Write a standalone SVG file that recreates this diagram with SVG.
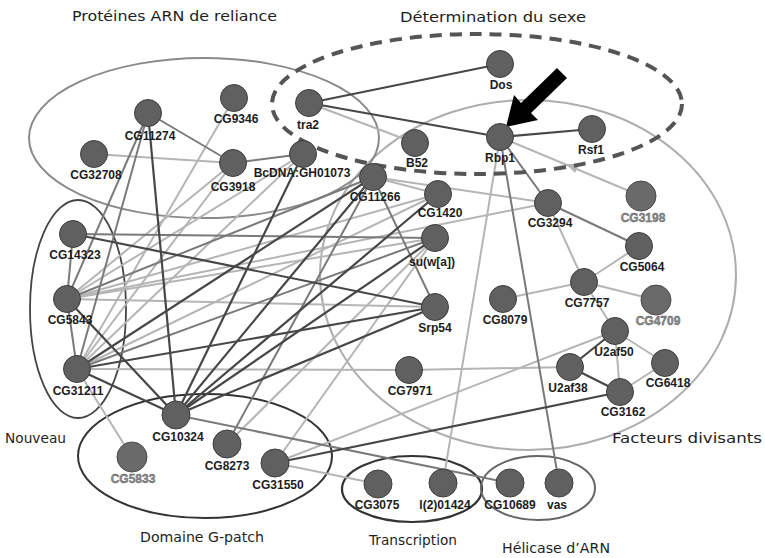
<svg xmlns="http://www.w3.org/2000/svg" width="765" height="558" viewBox="0 0 765 558">
<style>
.bg{fill:#ffffff}
.e-d{stroke:#474747;stroke-width:2.2;stroke-linecap:round}
.e-m{stroke:#7a7a7a;stroke-width:2;stroke-linecap:round}
.e-l{stroke:#b5b5b5;stroke-width:2;stroke-linecap:round}
.n{fill:#606060;stroke:#3e3e3e;stroke-width:1}
.nf{fill:#6a6a6a;stroke:#4a4a4a;stroke-width:1}
.lb{font-family:"Liberation Sans",Arial,sans-serif;font-weight:bold;font-size:12px;fill:#1c1c1c;text-anchor:middle}
.lbf{font-family:"Liberation Sans",Arial,sans-serif;font-weight:bold;font-size:12px;fill:#8c8c8c;stroke:#5a5a5a;stroke-width:0.4;text-anchor:middle}
.ttl{font-family:"DejaVu Sans","Liberation Sans",sans-serif;font-weight:normal;font-size:14.5px;fill:#1e1e1e}
</style>
<rect class="bg" x="0" y="0" width="765" height="558"/>
<g id="groups">
<ellipse id="grp-facteurs" cx="528" cy="275" rx="208" ry="175" fill="none" stroke="#adadad" stroke-width="2"/>
<ellipse id="grp-proteines" cx="204" cy="138" rx="175" ry="80" fill="none" stroke="#8a8a8a" stroke-width="2"/>
<ellipse id="grp-nouveau" cx="78" cy="309" rx="48" ry="109" fill="none" stroke="#444444" stroke-width="1.8"/>
<ellipse id="grp-gpatch" cx="205" cy="456" rx="127" ry="62" fill="none" stroke="#333333" stroke-width="2"/>
<ellipse id="grp-transcription" cx="412" cy="489" rx="70" ry="33" fill="none" stroke="#333333" stroke-width="2.2"/>
<ellipse id="grp-helicase" cx="538" cy="488" rx="57" ry="32" fill="none" stroke="#666666" stroke-width="2"/>
</g>
<g id="connectors">
<line class="e-l" x1="309" y1="103" x2="415" y2="143"/>
<line class="e-l" x1="500" y1="137" x2="641" y2="196"/>
<line class="e-l" x1="500" y1="137" x2="443" y2="483"/>
<line class="e-l" x1="94" y1="154" x2="233" y2="163"/>
<line class="e-l" x1="234" y1="98" x2="77" y2="369"/>
<line class="e-l" x1="303" y1="154" x2="67" y2="299"/>
<line class="e-l" x1="303" y1="154" x2="77" y2="369"/>
<line class="e-l" x1="233" y1="163" x2="67" y2="299"/>
<line class="e-l" x1="233" y1="163" x2="77" y2="369"/>
<line class="e-l" x1="373" y1="177" x2="438" y2="194"/>
<line class="e-l" x1="373" y1="177" x2="548" y2="203"/>
<line class="e-l" x1="67" y1="299" x2="435" y2="238"/>
<line class="e-l" x1="438" y1="194" x2="77" y2="369"/>
<line class="e-l" x1="438" y1="194" x2="67" y2="299"/>
<line class="e-l" x1="435" y1="238" x2="275" y2="463"/>
<line class="e-l" x1="435" y1="238" x2="227" y2="444"/>
<line class="e-l" x1="67" y1="299" x2="435" y2="307"/>
<line class="e-l" x1="77" y1="369" x2="409" y2="370"/>
<line class="e-l" x1="409" y1="370" x2="570" y2="367"/>
<line class="e-l" x1="548" y1="203" x2="584" y2="282"/>
<line class="e-l" x1="639" y1="246" x2="584" y2="282"/>
<line class="e-l" x1="584" y1="282" x2="503" y2="299"/>
<line class="e-l" x1="584" y1="282" x2="656" y2="300"/>
<line class="e-l" x1="584" y1="282" x2="615" y2="331"/>
<line class="e-l" x1="615" y1="331" x2="665" y2="363"/>
<line class="e-l" x1="615" y1="331" x2="620" y2="392"/>
<line class="e-l" x1="665" y1="363" x2="620" y2="392"/>
<line class="e-l" x1="615" y1="331" x2="275" y2="463"/>
<line class="e-l" x1="548" y1="203" x2="67" y2="299"/>
<line class="e-l" x1="77" y1="369" x2="132" y2="457"/>
<line class="e-l" x1="275" y1="463" x2="378" y2="484"/>
<polygon points="566,164 579,164 575,173" fill="#b5b5b5"/>
<line class="e-m" x1="500" y1="137" x2="548" y2="203"/>
<line class="e-m" x1="500" y1="137" x2="559" y2="483"/>
<line class="e-m" x1="148" y1="113" x2="233" y2="163"/>
<line class="e-m" x1="233" y1="163" x2="303" y2="154"/>
<line class="e-m" x1="148" y1="113" x2="77" y2="369"/>
<line class="e-m" x1="148" y1="113" x2="67" y2="299"/>
<line class="e-m" x1="373" y1="177" x2="435" y2="307"/>
<line class="e-m" x1="373" y1="177" x2="227" y2="444"/>
<line class="e-m" x1="373" y1="177" x2="67" y2="299"/>
<line class="e-m" x1="73" y1="234" x2="435" y2="238"/>
<line class="e-m" x1="77" y1="369" x2="435" y2="238"/>
<line class="e-m" x1="548" y1="203" x2="639" y2="246"/>
<line class="e-m" x1="176" y1="415" x2="510" y2="483"/>
<line class="e-m" x1="73" y1="234" x2="67" y2="299"/>
<line class="e-m" x1="67" y1="299" x2="77" y2="369" stroke-width="3"/>
<line class="e-d" x1="309" y1="103" x2="500" y2="64"/>
<line class="e-d" x1="309" y1="103" x2="500" y2="137"/>
<line class="e-d" x1="500" y1="137" x2="592" y2="129"/>
<line class="e-d" x1="148" y1="113" x2="176" y2="415"/>
<line class="e-d" x1="303" y1="154" x2="176" y2="415"/>
<line class="e-d" x1="373" y1="177" x2="176" y2="415"/>
<line class="e-d" x1="373" y1="177" x2="77" y2="369"/>
<line class="e-d" x1="176" y1="415" x2="435" y2="238"/>
<line class="e-d" x1="73" y1="234" x2="435" y2="307"/>
<line class="e-d" x1="77" y1="369" x2="435" y2="307"/>
<line class="e-d" x1="176" y1="415" x2="435" y2="307"/>
<line class="e-d" x1="615" y1="331" x2="570" y2="367"/>
<line class="e-d" x1="570" y1="367" x2="620" y2="392"/>
<line class="e-d" x1="620" y1="392" x2="275" y2="463"/>
<line class="e-d" x1="67" y1="299" x2="176" y2="415"/>
<line class="e-d" x1="77" y1="369" x2="176" y2="415"/>
<line class="e-d" x1="176" y1="415" x2="438" y2="194"/>
</g>
<ellipse id="grp-sexe" cx="477" cy="104" rx="205" ry="70" fill="none" stroke="#555555" stroke-width="4" stroke-dasharray="12 8"/>
<polygon id="pointer" points="506,127 538,120 531,113 567,78 557,68 521,103 514,95" fill="#000000"/>
<g id="n-Dos"><circle class="n" cx="500" cy="64" r="13.5"/><text class="lb" x="501" y="89">Dos</text></g>
<g id="n-tra2"><circle class="n" cx="309" cy="103" r="13.5"/><text class="lb" x="308" y="129">tra2</text></g>
<g id="n-Rbp1"><circle class="n" cx="500" cy="137" r="13.5"/><text class="lb" x="500" y="162">Rbp1</text></g>
<g id="n-Rsf1"><circle class="n" cx="592" cy="129" r="13.5"/><text class="lb" x="591" y="154">Rsf1</text></g>
<g id="n-CG9346"><circle class="n" cx="234" cy="98" r="13.5"/><text class="lb" x="236" y="123">CG9346</text></g>
<g id="n-CG11274"><circle class="n" cx="148" cy="113" r="13.5"/><text class="lb" x="150" y="140">CG11274</text></g>
<g id="n-CG32708"><circle class="n" cx="94" cy="154" r="13.5"/><text class="lb" x="96" y="179">CG32708</text></g>
<g id="n-CG3918"><circle class="n" cx="233" cy="163" r="13.5"/><text class="lb" x="233" y="191">CG3918</text></g>
<g id="n-BcDNA"><circle class="n" cx="303" cy="154" r="13.5"/><text class="lb" x="302" y="177">BcDNA:GH01073</text></g>
<g id="n-B52"><circle class="n" cx="415" cy="143" r="13.5"/><text class="lb" x="417" y="167">B52</text></g>
<g id="n-CG11266"><circle class="n" cx="373" cy="177" r="13.5"/><text class="lb" x="375" y="201">CG11266</text></g>
<g id="n-CG1420"><circle class="n" cx="438" cy="194" r="13.5"/><text class="lb" x="440" y="217">CG1420</text></g>
<g id="n-CG3294"><circle class="n" cx="548" cy="203" r="13.5"/><text class="lb" x="550" y="227">CG3294</text></g>
<g id="n-CG3198"><circle class="nf" cx="641" cy="196" r="15"/><text class="lbf" x="643" y="222">CG3198</text></g>
<g id="n-CG14323"><circle class="n" cx="73" cy="234" r="13.5"/><text class="lb" x="75" y="259">CG14323</text></g>
<g id="n-suwa"><circle class="n" cx="435" cy="238" r="13.5"/><text class="lb" x="432" y="266">su(w[a])</text></g>
<g id="n-CG5064"><circle class="n" cx="639" cy="246" r="13.5"/><text class="lb" x="642" y="271">CG5064</text></g>
<g id="n-CG5843"><circle class="n" cx="67" cy="299" r="13.5"/><text class="lb" x="70" y="324">CG5843</text></g>
<g id="n-Srp54"><circle class="n" cx="435" cy="307" r="13.5"/><text class="lb" x="435" y="332">Srp54</text></g>
<g id="n-CG8079"><circle class="n" cx="503" cy="299" r="13.5"/><text class="lb" x="505" y="324">CG8079</text></g>
<g id="n-CG7757"><circle class="n" cx="584" cy="282" r="13.5"/><text class="lb" x="587" y="307">CG7757</text></g>
<g id="n-CG4709"><circle class="nf" cx="656" cy="300" r="15"/><text class="lbf" x="658" y="325">CG4709</text></g>
<g id="n-U2af50"><circle class="n" cx="615" cy="331" r="13.5"/><text class="lb" x="614" y="356">U2af50</text></g>
<g id="n-CG31211"><circle class="n" cx="77" cy="369" r="13.5"/><text class="lb" x="78" y="395">CG31211</text></g>
<g id="n-CG7971"><circle class="n" cx="409" cy="370" r="13.5"/><text class="lb" x="410" y="395">CG7971</text></g>
<g id="n-U2af38"><circle class="n" cx="570" cy="367" r="13.5"/><text class="lb" x="568" y="392">U2af38</text></g>
<g id="n-CG6418"><circle class="n" cx="665" cy="363" r="13.5"/><text class="lb" x="668" y="387">CG6418</text></g>
<g id="n-CG3162"><circle class="n" cx="620" cy="392" r="13.5"/><text class="lb" x="623" y="416">CG3162</text></g>
<g id="n-CG10324"><circle class="n" cx="176" cy="415" r="14"/><text class="lb" x="178" y="441">CG10324</text></g>
<g id="n-CG5833"><circle class="nf" cx="132" cy="457" r="15"/><text class="lbf" x="133" y="483">CG5833</text></g>
<g id="n-CG8273"><circle class="n" cx="227" cy="444" r="14"/><text class="lb" x="227" y="470">CG8273</text></g>
<g id="n-CG31550"><circle class="n" cx="275" cy="463" r="14"/><text class="lb" x="278" y="489">CG31550</text></g>
<g id="n-CG3075"><circle class="n" cx="378" cy="484" r="14"/><text class="lb" x="377" y="509">CG3075</text></g>
<g id="n-l201424"><circle class="n" cx="443" cy="483" r="14"/><text class="lb" x="445" y="509">l(2)01424</text></g>
<g id="n-CG10689"><circle class="n" cx="510" cy="483" r="14"/><text class="lb" x="510" y="509">CG10689</text></g>
<g id="n-vas"><circle class="n" cx="559" cy="483" r="14"/><text class="lb" x="557" y="509">vas</text></g>
<g id="titles">
<text class="ttl" x="72" y="21" textLength="205" lengthAdjust="spacingAndGlyphs">Protéines ARN de reliance</text>
<text class="ttl" x="400" y="22" textLength="186" lengthAdjust="spacingAndGlyphs">Détermination du sexe</text>
<text class="ttl" x="5" y="443" textLength="61" lengthAdjust="spacingAndGlyphs">Nouveau</text>
<text class="ttl" x="612" y="443" textLength="150" lengthAdjust="spacingAndGlyphs">Facteurs divisants</text>
<text class="ttl" x="140" y="542" textLength="124" lengthAdjust="spacingAndGlyphs">Domaine G-patch</text>
<text class="ttl" x="369" y="545" textLength="88" lengthAdjust="spacingAndGlyphs">Transcription</text>
<text class="ttl" x="502" y="553" textLength="108" lengthAdjust="spacingAndGlyphs">Hélicase d’ARN</text>
</g>
</svg>
